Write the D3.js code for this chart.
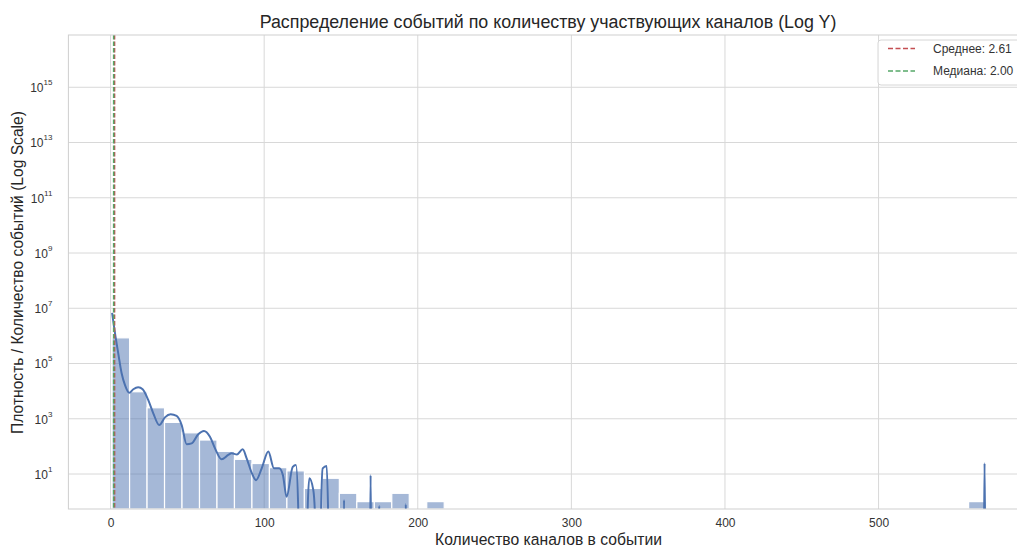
<!DOCTYPE html>
<html>
<head>
<meta charset="utf-8">
<script src="https://cdn.jsdelivr.net/npm/d3@7"></script>
<style>
  html, body { margin: 0; padding: 0; background: #ffffff; }
  svg { display: block; font-family: "Liberation Sans", Arial, sans-serif; }
</style>
</head>
<body>
<svg id="chart" width="1017" height="548"></svg>
<script>
// ---------------- DATA ----------------
const titleText = "Распределение событий по количеству участвующих каналов (Log Y)";
const xLabelText = "Количество каналов в событии";
const yLabelText = "Плотность / Количество событий (Log Scale)";

// histogram: 50 bins from 1 to 570
const binMin = 1;
const binMax = 570;
const binCounts = [
  850000, 9500, 2500, 740, 310, 170, 66, 34, 24, 17,
  13, 3, 7, 2, 1, 1, 2, 0, 1, 0,
  0, 0, 0, 0, 0, 0, 0, 0, 0, 0,
  0, 0, 0, 0, 0, 0, 0, 0, 0, 0,
  0, 0, 0, 0, 0, 0, 0, 0, 0, 1
];

// KDE curve (scaled to counts)
const kdeX = [
  1, 2.9, 5.0, 7.2, 9.4, 12.2, 14.8, 18.0, 20.9, 24.5,
  27.8, 31.7, 35.4, 39.1, 43.0, 46.3, 49.5, 52.8, 57.1, 60.8,
  64.7, 68.0, 72.3, 76.6, 78.8, 82.3, 86.0, 88.6, 91.9, 94.7,
  98.4, 102.7, 106.4, 109.8, 112.2, 114.6, 118.6, 120.7, 122.2, 123.0,
  127.6, 128.3, 129.4, 132.0, 133.1, 133.8, 136.4, 137.0, 138.1, 140.7,
  141.7, 142.4, 151.4, 152.0, 152.6, 168.8, 169.3, 169.8, 174.4, 174.9,
  175.4, 191.7, 192.2, 192.7, 568.4, 569.0, 569.6, 570
];
const kdeY = [
  6.8e6, 1.23e6, 2.34e5, 4.47e4, 1.66e4, 8710, 1.17e4, 1.38e4, 1.17e4, 4790,
  1580, 589, 1120, 1450, 1260, 589, 120, 129, 275, 363,
  224, 85, 34, 49, 56, 51, 78, 37, 11, 6.0,
  16, 65, 16, 16, 9.1, 1.5, 18, 21, 0.5, 0.001,
  0.001, 0.5, 7, 2.6, 0.3, 0.001, 0.001, 0.3, 16, 19.5,
  0.3, 0.001, 0.001, 1.15, 0.001, 0.001, 9.1, 0.001, 0.001, 0.7,
  0.001, 0.001, 0.8, 0.001, 0.001, 24.5, 0.001, 0.001
];

const meanValue = 2.61;
const medianValue = 2.00;
const legendLabels = ["Среднее: 2.61", "Медиана: 2.00"];

const xTicks = [0, 100, 200, 300, 400, 500];
const yTickExponents = [1, 3, 5, 7, 9, 11, 13, 15];

// ---------------- LAYOUT ----------------
const svg = d3.select("#chart");
const plot = { left: 68.4, right: 1029.8, top: 35, bottom: 509 };
const xDomain = [-27.45, 598.45];
const yDomain = [0.541, 7.8e16];

const x = d3.scaleLinear().domain(xDomain).range([plot.left, plot.right]);
const y = d3.scaleLog().domain(yDomain).range([plot.bottom, plot.top]);

const colors = {
  bar: "#4c72b0", line: "#4c72b0", grid: "#d8d8d8", spine: "#cfcfcf",
  text: "#333333", mean: "#c44e52", median: "#55a868"
};

svg.append("defs").append("clipPath").attr("id", "plotclip")
  .append("rect")
  .attr("x", plot.left).attr("y", plot.top)
  .attr("width", plot.right - plot.left).attr("height", plot.bottom - plot.top);

// grid
const grid = svg.append("g");
grid.selectAll("line.vx").data(xTicks).enter().append("line")
  .attr("x1", d => x(d)).attr("x2", d => x(d))
  .attr("y1", plot.top).attr("y2", plot.bottom)
  .attr("stroke", colors.grid).attr("stroke-width", 1);
grid.selectAll("line.hy").data(yTickExponents).enter().append("line")
  .attr("x1", plot.left).attr("x2", plot.right)
  .attr("y1", d => y(Math.pow(10, d))).attr("y2", d => y(Math.pow(10, d)))
  .attr("stroke", colors.grid).attr("stroke-width", 1);

// bars
const binWidth = (binMax - binMin) / binCounts.length;
const bars = binCounts.map((c, i) => ({ x0: binMin + i * binWidth, x1: binMin + (i + 1) * binWidth, c }))
  .filter(d => d.c > 0);
const g = svg.append("g").attr("clip-path", "url(#plotclip)");
g.selectAll("rect.bar").data(bars).enter().append("rect")
  .attr("x", d => x(d.x0)).attr("width", d => x(d.x1) - x(d.x0))
  .attr("y", d => y(d.c)).attr("height", d => plot.bottom - y(d.c))
  .attr("fill", colors.bar).attr("fill-opacity", 0.5)
  .attr("stroke", "#ffffff").attr("stroke-width", 1.2);

// kde
const kdePts = kdeX.map((v, i) => [v, kdeY[i]]);
g.append("path").datum(kdePts)
  .attr("d", d3.line().x(d => x(d[0])).y(d => y(d[1])).curve(d3.curveMonotoneX))
  .attr("fill", "none").attr("stroke", colors.line).attr("stroke-width", 2)
  .attr("stroke-linejoin", "round");

// mean / median
[[meanValue, colors.mean], [medianValue, colors.median]].forEach(([v, c]) => {
  g.append("line")
    .attr("x1", x(v)).attr("x2", x(v)).attr("y1", plot.top).attr("y2", plot.bottom)
    .attr("stroke", c).attr("stroke-width", 1.5).attr("stroke-dasharray", "4.5,2");
});

// spines
svg.append("rect")
  .attr("x", plot.left).attr("y", plot.top)
  .attr("width", plot.right - plot.left).attr("height", plot.bottom - plot.top)
  .attr("fill", "none").attr("stroke", colors.spine).attr("stroke-width", 1);

// axes via d3
const xAxis = d3.axisBottom(x).tickValues(xTicks).tickSize(0).tickPadding(10).tickFormat(d3.format("d"));
const xg = svg.append("g").attr("transform", `translate(0,${plot.bottom})`).call(xAxis);
xg.select(".domain").remove();
xg.selectAll("text").attr("font-size", 12).attr("fill", colors.text)
  .attr("font-family", "'Liberation Sans', Arial, sans-serif").attr("dy", "0.71em").attr("y", 9);

const yAxis = d3.axisLeft(y).tickValues(yTickExponents.map(e => Math.pow(10, e))).tickSize(0).tickFormat(() => "");
const yg = svg.append("g").attr("transform", `translate(${plot.left},0)`).call(yAxis);
yg.select(".domain").remove();
yg.selectAll(".tick").each(function(d) {
  const t = d3.select(this).select("text");
  t.attr("x", -16).attr("dy", "0.36em").attr("text-anchor", "end")
    .attr("font-size", 12).attr("fill", colors.text)
    .attr("font-family", "'Liberation Sans', Arial, sans-serif");
  t.text(null);
  t.append("tspan").text("10");
  t.append("tspan").attr("dy", -7).attr("font-size", 8).text(String(Math.round(Math.log10(d))));
});

// labels
function fit(sel, target) {
  const w = sel.node().getComputedTextLength();
  const fs = parseFloat(sel.attr("font-size"));
  sel.attr("font-size", (fs * target / w).toFixed(2));
}
const title = svg.append("text").attr("x", 548).attr("y", 28).attr("text-anchor", "middle")
  .attr("font-size", 17).attr("fill", "#262626").text(titleText);
fit(title, 577);

const xl = svg.append("text").attr("x", 548.5).attr("y", 545).attr("text-anchor", "middle")
  .attr("font-size", 15).attr("fill", "#262626").text(xLabelText);
fit(xl, 227);

const yl = svg.append("text").attr("transform", "translate(23,272.5) rotate(-90)").attr("text-anchor", "middle")
  .attr("font-size", 15).attr("fill", "#262626").text(yLabelText);
fit(yl, 323);

// legend
const lg = svg.append("g");
lg.append("rect").attr("x", 878).attr("y", 40).attr("width", 160).attr("height", 45).attr("rx", 3)
  .attr("fill", "#ffffff").attr("fill-opacity", 0.85).attr("stroke", "#d6d6d6").attr("stroke-width", 1);
const legendColors = [colors.mean, colors.median];
legendLabels.forEach((lab, i) => {
  const yy = 48.5 + i * 22.5;
  lg.append("line").attr("x1", 888).attr("x2", 915).attr("y1", yy).attr("y2", yy)
    .attr("stroke", legendColors[i]).attr("stroke-width", 1.5).attr("stroke-dasharray", "5,2.5");
  lg.append("text").attr("x", 933).attr("y", yy + 4.2).attr("font-size", 12).attr("fill", colors.text).text(lab);
});
</script>
</body>
</html>
